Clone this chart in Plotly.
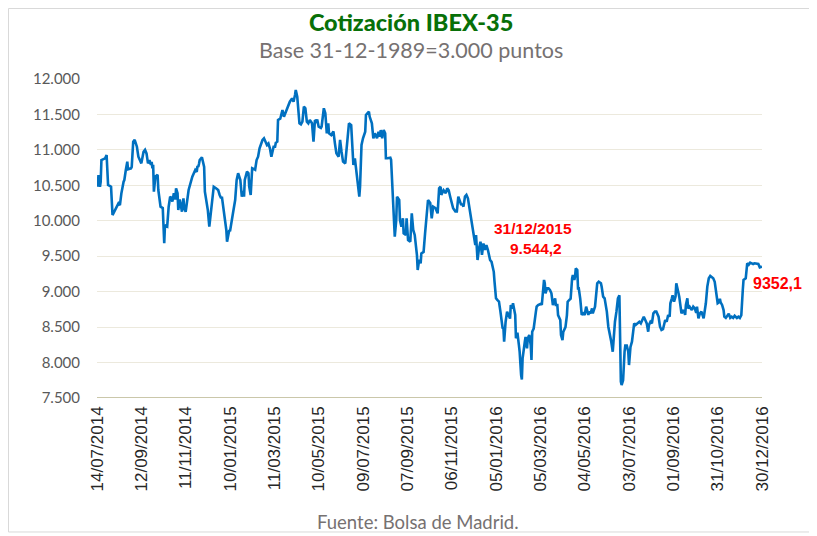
import pandas as pd
import plotly.graph_objects as go

start_date = "2014-07-14"

# days since 14/07/2014
day_offsets = [
    0, 1, 2, 4, 5, 6, 11, 13, 15, 19, 21, 26, 29, 31, 33, 36, 37, 39, 41, 42,
    46, 47, 49, 51, 54, 56, 58, 60, 63, 65, 67, 69, 71, 73, 74, 75, 76, 77, 79, 82,
    83, 86, 89, 91, 92, 95, 97, 99, 101, 102, 104, 106, 107, 109, 110, 112, 115, 117, 118, 120,
    124, 127, 129, 133, 135, 136, 137, 138, 139, 142, 143, 145, 146, 148, 150, 152, 154, 155, 157, 158,
    161, 164, 166, 168, 169, 172, 174, 175, 176, 179, 180, 182, 184, 187, 189, 191, 194, 196, 198, 199,
    200, 203, 205, 206, 208, 210, 214, 216, 218, 220, 224, 226, 230, 232, 234, 236, 239, 241, 242, 244,
    245, 248, 250, 251, 253, 255, 257, 259, 261, 264, 266, 268, 269, 271, 272, 274, 276, 278, 280, 282,
    284, 286, 288, 291, 293, 295, 297, 298, 300, 303, 304, 306, 307, 309, 311, 313, 314, 317, 320, 322,
    324, 327, 329, 331, 333, 336, 338, 340, 341, 344, 345, 347, 349, 350, 352, 355, 356, 357, 358, 360,
    363, 364, 366, 368, 369, 372, 374, 376, 379, 381, 383, 384, 386, 388, 390, 391, 393, 397, 398, 400,
    402, 403, 405, 406, 409, 410, 412, 414, 415, 418, 419, 421, 424, 426, 428, 430, 433, 434, 436, 438,
    439, 442, 444, 446, 448, 451, 453, 455, 458, 461, 462, 463, 465, 466, 469, 472, 474, 476, 478, 480,
    482, 485, 487, 489, 491, 493, 494, 496, 498, 500, 502, 505, 507, 509, 512, 513, 515, 517, 519, 521,
    523, 525, 527, 529, 532, 534, 535, 537, 538, 540, 542, 544, 546, 548, 549, 550, 551, 553, 555, 557,
    559, 560, 562, 563, 566, 567, 569, 571, 572, 574, 575, 576, 577, 579, 580, 582, 583, 585, 587, 588,
    589, 591, 594, 595, 597, 601, 602, 604, 605, 606, 607, 609, 611, 613, 615, 617, 620, 621, 623, 624,
    627, 628, 630, 631, 633, 634, 636, 637, 639, 641, 643, 644, 646, 647, 648, 650, 651, 652, 654, 656,
    658, 660, 662, 665, 666, 668, 670, 671, 674, 676, 677, 679, 682, 683, 685, 687, 688, 690, 692, 694,
    696, 698, 699, 701, 703, 705, 707, 708, 709, 710, 712, 714, 715, 717, 719, 720, 722, 724, 726, 727,
    729, 732, 734, 736, 738, 740, 742, 744, 746, 747, 749, 751, 753, 755, 757, 760, 762, 764, 766, 768,
    769, 771, 773, 775, 776, 778, 779, 781, 783, 784, 785, 787, 788, 790, 791, 794, 796, 797, 799, 800,
    802, 805, 807, 809, 811, 812, 814, 816, 818, 821, 822, 824, 826, 828, 830, 832, 834, 836, 837, 839,
    840, 842, 843, 844, 846, 848, 849, 851, 853, 855, 857, 859, 861, 863, 866, 868, 870, 872, 874, 875,
    878, 879, 880, 882, 884, 886, 888, 890, 893, 895, 897, 900,
]

ibex_values = [
    10600, 10480, 10646, 10480, 10550, 10857, 10881, 10928, 10505, 10481, 10081, 10198, 10245, 10220, 10387, 10551, 10575, 10716, 10834, 10726,
    10740, 10760, 11116, 11140, 11045, 10904, 10857, 10810, 10974, 11000, 10950, 10810, 10857, 10787, 10830, 10740, 10790, 10410, 10622, 10650,
    10434, 10198, 10180, 9682, 9940, 9920, 10198, 10340, 10320, 10270, 10387, 10300, 10458, 10390, 10152, 10300, 10128, 10317, 10180, 10128,
    10434, 10575, 10622, 10716, 10690, 10773, 10760, 10800, 10857, 10895, 10857, 10760, 10410, 10293, 10150, 9917, 10105, 10245, 10340, 10481,
    10460, 10434, 10364, 10317, 10340, 10105, 9964, 9870, 9705, 9870, 9850, 10011, 10105, 10293, 10575, 10670, 10575, 10340, 10420, 10340,
    10575, 10693, 10670, 10481, 10364, 10740, 10720, 10857, 10904, 11022, 11140, 11163, 11069, 11090, 11022, 10904, 11045, 11045, 11100, 11116,
    11422, 11440, 11516, 11563, 11468, 11516, 11587, 11633, 11680, 11727, 11680, 11774, 11845, 11750, 11633, 11375, 11360, 11398, 11610, 11587,
    11398, 11375, 11422, 11375, 11116, 11422, 11400, 11430, 11328, 11310, 11330, 11516, 11587, 11516, 11234, 11375, 11234, 11210, 11260, 11093,
    10951, 10904, 11140, 10970, 10834, 10810, 11045, 11328, 11375, 11350, 11140, 10787, 10880, 10780, 10622, 10340, 10480, 10904, 11070, 11163,
    11257, 11492, 11516, 11540, 11470, 11375, 11163, 11234, 11163, 11257, 11187, 11280, 11163, 11280, 11234, 10881, 10881, 10890, 10860, 10481,
    10105, 9776, 10011, 10340, 10293, 10011, 9917, 10035, 9823, 9800, 10035, 9729, 9705, 10105, 9870, 9800, 9517, 9306, 9450, 9400,
    9540, 9560, 9823, 10105, 10293, 10250, 10035, 10200, 10180, 10105, 10293, 10458, 10480, 10364, 10430, 10390, 10458, 10430, 10340, 10270,
    10176, 10130, 10130, 10340, 10293, 10220, 10240, 10200, 10340, 10364, 10317, 10105, 10035, 9846, 9658, 9800, 9447, 9611, 9705, 9520,
    9680, 9590, 9658, 9590, 9447, 9420, 9353, 9280, 9141, 8906, 8880, 8860, 8718, 8530, 8480, 8500, 8294, 8576, 8718, 8670,
    8620, 8812, 8760, 8836, 8671, 8342, 8420, 8247, 8153, 7824, 7760, 8060, 8177, 8294, 8360, 8201, 8340, 8388, 8247, 8036,
    8435, 8480, 8718, 8788, 8810, 8830, 8812, 9141, 9165, 9120, 8977, 9047, 9047, 9024, 8977, 8812, 8906, 8812, 8812, 8670,
    8600, 8388, 8318, 8430, 8480, 8500, 8670, 8858, 8880, 8900, 9188, 9235, 9165, 9212, 9329, 9306, 9047, 9047, 8900, 8671,
    8694, 8671, 8788, 8671, 8718, 8694, 8765, 8694, 8788, 8953, 9118, 9141, 9118, 9070, 8930, 8906, 8836, 8718, 8506, 8420,
    8294, 8153, 8360, 8576, 8718, 8906, 8950, 7918, 7730, 7683, 7750, 8153, 8240, 8240, 8153, 7965, 8220, 8294, 8459, 8553,
    8530, 8553, 8576, 8553, 8600, 8647, 8600, 8553, 8435, 8530, 8576, 8553, 8694, 8718, 8718, 8647, 8506, 8459, 8470, 8553,
    8600, 8576, 8671, 8647, 8836, 8906, 8950, 8860, 8930, 9118, 9047, 8977, 8930, 8718, 8694, 8740, 8671, 8812, 8906, 8765,
    8788, 8740, 8788, 8765, 8700, 8788, 8624, 8694, 8718, 8624, 8690, 8836, 9071, 9188, 9221, 9210, 9188, 9140, 9070, 8882,
    8836, 8850, 8900, 8850, 8812, 8740, 8647, 8630, 8670, 8690, 8630, 8647, 8630, 8660, 8630, 8647, 8630, 8670, 9024, 9165,
    9188, 9282, 9400, 9380, 9409, 9400, 9390, 9400, 9390, 9390, 9343, 9352.1,
]

tick_labels = [
    "14/07/2014", "12/09/2014", "11/11/2014", "10/01/2015", "11/03/2015", "10/05/2015",
    "09/07/2015", "07/09/2015", "06/11/2015", "05/01/2016", "05/03/2016", "04/05/2016",
    "03/07/2016", "01/09/2016", "31/10/2016", "30/12/2016",
]
y_ticks = [7500, 8000, 8500, 9000, 9500, 10000, 10500, 11000, 11500, 12000]

title_text = "Cotización IBEX-35"
subtitle_text = "Base 31-12-1989=3.000 puntos"

dates = pd.Timestamp(start_date) + pd.to_timedelta(day_offsets, unit="D")
tick_dates = pd.to_datetime(tick_labels, format="%d/%m/%Y")

fig = go.Figure()
fig.add_trace(go.Scatter(
    x=dates, y=ibex_values, mode="lines",
    line=dict(color="#0070C0", width=2.6),
    hoverinfo="skip", showlegend=False,
))


def label(text, x, y, size, color, family="Lato", weight=None):
    font = dict(family=family, size=size, color=color)
    if weight:
        font["weight"] = weight
    return dict(text=text, xref="paper", yref="paper", x=x, y=y,
                xanchor="center", yanchor="middle", showarrow=False, font=font)


heading = (
    f"<span style='font-size:23.5px;color:#087008;font-weight:900'>{title_text}</span><br>"
    f"<span style='font-size:21.5px;color:#767171'>{subtitle_text}</span>"
)

fig.update_layout(
    width=809, height=528,
    margin=dict(l=89, r=55, t=71, b=138),
    paper_bgcolor="white", plot_bgcolor="white",
    separators=",.",
    showlegend=False,
    xaxis=dict(
        type="date",
        range=[tick_dates[0], tick_dates[-1]],
        tickvals=tick_dates, ticktext=tick_labels,
        tickangle=-90,
        tickfont=dict(family="Liberation Sans, Arial", size=17, color="#262626"),
        ticklabelstandoff=4,
        showgrid=False, zeroline=False, showline=False, ticks="",
    ),
    yaxis=dict(
        range=[7500, 12000],
        tickvals=y_ticks,
        tickformat=",d",
        tickfont=dict(family="Lato, Open Sans", size=15, color="#595959"),
        ticklabelstandoff=16,
        showgrid=True, gridcolor="#ECE9DD", gridwidth=1,
        zeroline=False, showline=False, ticks="",
    ),
    shapes=[
        dict(type="line", xref="paper", yref="y", x0=0, x1=1, y0=7500, y1=7500,
             line=dict(color="#B8B48E", width=1.5)),
        dict(type="rect", xref="paper", yref="paper", x0=-0.1331, x1=1.0752, y0=-0.42, y1=1.221,
             line=dict(color="#D9D9D9", width=1)),
    ],
    annotations=[
        label(heading, 0.472, 1.1348, 21, "#767171"),
        label("<b>31/12/2015</b>", 0.6556, 0.5298, 15.5, "#FF0000", family="Liberation Sans, Arial"),
        label("<b>9.544,2</b>", 0.660, 0.470, 15.5, "#FF0000", family="Liberation Sans, Arial"),
        label("<b>9352,1</b>", 1.0226, 0.3574, 16, "#FF0000", family="Liberation Sans, Arial"),
        label("Fuente: Bolsa de Madrid.", 0.483, -0.389, 18.5, "#767171"),
    ],
)

fig.write_html("out.html")
